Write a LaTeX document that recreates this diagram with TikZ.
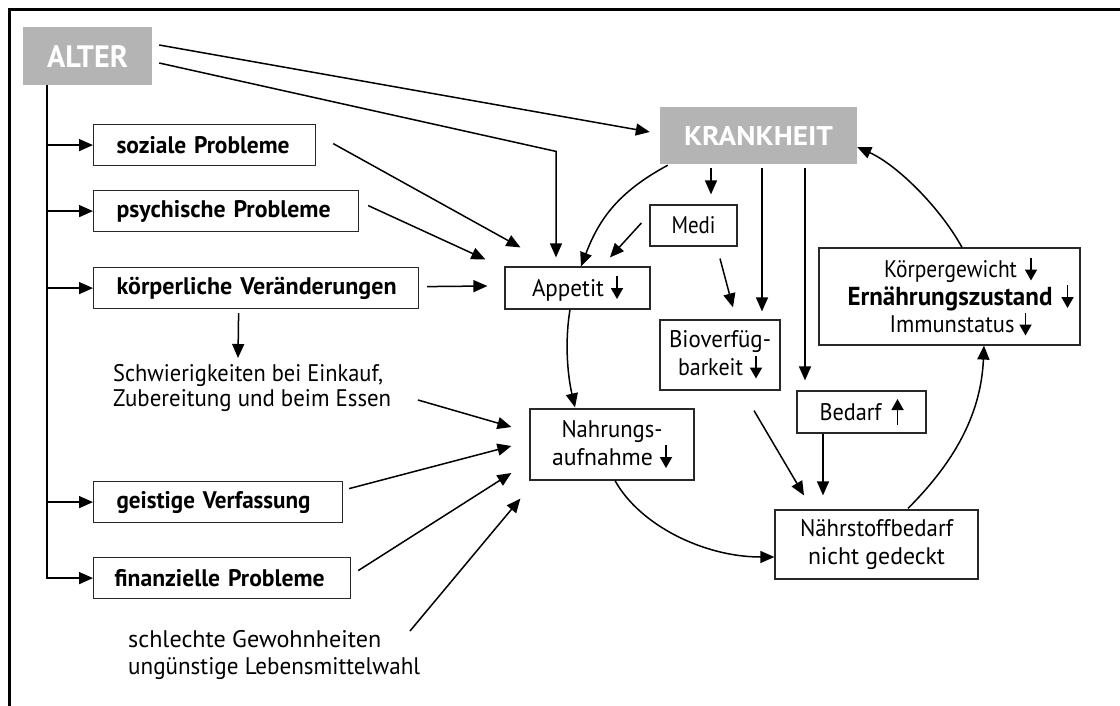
\documentclass[tikz,border=0pt]{standalone}
\usepackage{graphicx}
\usepackage{fontspec}
\setmainfont{PT Sans}
\usetikzlibrary{arrows.meta,calc}
\definecolor{boxgray}{RGB}{180,180,180}
\definecolor{boxline}{RGB}{40,40,40}
\newcommand\tw[2]{\resizebox{#1}{\height}{#2}}
\newcommand\myDown{\tikz[baseline=0pt]\draw[line width=1.8pt,-{Triangle[length=11pt,width=12pt]}] (0pt,20pt) -- (0pt,-3pt);}
\newcommand\myUp{\tikz[baseline=0pt]\draw[line width=1.8pt,-{Triangle[length=11pt,width=12pt]}] (0pt,-5pt) -- (0pt,21pt);}
\begin{document}
\begin{tikzpicture}[x=1pt,y=-1pt,
  box/.style={draw=boxline,line width=1.2pt,inner sep=0pt,font=\fontsize{24}{28}\selectfont,align=center},
  lbox/.style={draw=boxline,line width=1.2pt,inner ysep=0pt,inner xsep=23pt,anchor=north west,font=\fontsize{24}{26}\selectfont\bfseries,align=left,minimum height=41pt},
  gbox/.style={fill=boxgray,text=white,inner sep=0pt},
  arr/.style={line width=1.5pt,-{Triangle[length=14pt,width=12pt]}},
  txt/.style={inner sep=0pt,anchor=north west,align=left,font=\fontsize{24}{25}\selectfont},
  frame/.style={line width=3pt}]
\useasboundingbox (0,0) rectangle (1120,706);
\draw[frame] (9,706) -- (9,10) -- (1120,10);

% gray main nodes
\node[gbox,minimum width=129pt,minimum height=58pt,font=\fontsize{31}{32}\selectfont\bfseries] (alter) at (87.5,56) {\tw{81pt}{ALTER}};
\node[gbox,minimum width=197pt,minimum height=57pt,font=\fontsize{27}{30}\selectfont\bfseries] (krank) at (758.5,135.5) {\tw{149pt}{KRANKHEIT}};

% left column
\node[lbox,minimum width=222pt,text width=176pt] (soz) at (93,124) {\tw{173pt}{soziale Probleme}};
\node[lbox,minimum width=265pt,text width=219pt] (psy) at (93,190) {\tw{214pt}{psychische Probleme}};
\node[lbox,minimum width=325pt,text width=279pt] (koerp) at (93,267) {\tw{280pt}{körperliche Veränderungen}};
\node[lbox,minimum width=249pt,text width=203pt] (geist) at (93,481) {\tw{194pt}{geistige Verfassung}};
\node[lbox,minimum width=257pt,text width=215pt,inner xsep=21pt] (finanz) at (93,557) {\tw{210pt}{finanzielle Probleme}};
\node[txt] (schw) at (113,364) {\tw{270pt}{Schwierigkeiten bei Einkauf,}\\\tw{278pt}{Zubereitung und beim Essen}};
\node[txt,font=\fontsize{24}{27}\selectfont] (schl) at (128,630) {\tw{253pt}{schlechte Gewohnheiten}\\\tw{292pt}{ungünstige Lebensmittelwahl}};

% middle / right boxes
\node[box,minimum width=87pt,minimum height=41pt] (medi) at (693.5,225.5) {\tw{44pt}{Medi}};
\node[box,minimum width=145pt,minimum height=42pt] (app) at (577.5,288) {\tw{72pt}{Appetit}\hspace{7pt}\myDown};
\node[box,minimum width=120pt,minimum height=70pt] (bio) at (720,355) {\tw{102pt}{Bioverfüg-}\\\tw{65pt}{barkeit}\hspace{7pt}\myDown};
\node[box,minimum width=129pt,minimum height=42pt] (bedarf) at (861.5,412) {\tw{62pt}{Bedarf}\hspace{10pt}\myUp};
\node[box,minimum width=164pt,minimum height=71pt] (nahr) at (612,444.5) {\tw{101pt}{Nahrungs-}\\\tw{101pt}{aufnahme}\hspace{7pt}\myDown};
\node[box,minimum width=203pt,minimum height=69pt] (naehr) at (876.5,544.5) {\tw{153pt}{Nährstoffbedarf}\\\tw{137pt}{nicht gedeckt}};
\node[box,minimum width=261pt,minimum height=97pt,font=\fontsize{24}{27.5}\selectfont] (zust) at (949.5,296.5)
  {\hspace*{22pt}\tw{133pt}{Körpergewicht}\hspace{8pt}\myDown\\
   \hspace*{22pt}{\fontsize{26}{27.5}\selectfont\bfseries\tw{205pt}{Ernährungszustand}}\hspace{9pt}\myDown\\
   \hspace*{22pt}\tw{125pt}{Immunstatus}\hspace{5pt}\myDown};

% spine from ALTER
\coordinate (spine) at ($(alter.south west)+(24,0)$);
\foreach \n in {soz,psy,koerp,geist,finanz} \draw[arr] (spine) |- (\n.west);

% ALTER arrows
\draw[arr] ($(alter.east)+(7,-11)$) -- ($(krank.west)+(-10,-3.5)$);
\draw[arr] ($(alter.east)+(7,7)$) -- ($(app.north)+(-21.5,-115)$) -- ($(app.north)+(-21.5,-9)$);

% into Appetit
\draw[arr] ($(soz.east)+(17,-1.5)$) -- ($(app.north west)+(16,-19)$);
\draw[arr] ($(psy.east)+(9,-5.5)$) -- ($(app.north west)+(-19,-7)$);
\draw[arr] ($(koerp.east)+(8,-1.5)$) -- ($(app.west)+(-17,-2)$);
\draw[arr] ($(krank.south west)+(8,1)$) .. controls +(-50,27) and +(18,-47) .. ($(app.north)+(3.5,0)$);
\draw[arr] ($(medi.west)+(-8,-2.5)$) -- ($(app.north)+(32.5,-9)$);

% koerperliche -> Schwierigkeiten
\draw[arr] ($(koerp.south)+(-17.5,4)$) -- ($(schw.north west)+(125,-6)$);

% into Nahrungsaufnahme
\draw[arr] ($(schw.north west)+(305,36)$) -- ($(nahr.west)+(-18,-17.5)$);
\draw[arr] ($(geist.east)+(6,-13.5)$) -- ($(nahr.west)+(-18,1.5)$);
\draw[arr] ($(finanz.east)+(7,-7.5)$) -- ($(nahr.west)+(-18,28.5)$);
\draw[arr] ($(schl.north west)+(282,1)$) -- ($(nahr.south west)+(-9,18)$);
\draw[arr] ($(app.south)+(-7.5,0)$) .. controls +(-5,30) and +(-8,-35) .. ($(nahr.north)+(-37,-1)$);

% KRANKHEIT branches
\draw[arr] ($(krank.south)+(-47.5,4)$) -- ($(medi.north)+(17.5,-10)$);
\draw[arr] ($(medi.south)+(26.5,12)$) -- ($(bio.north)+(13,-12)$);
\draw[arr] ($(krank.south)+(3.5,4)$) -- ($(bio.north)+(42,-8)$);
\draw[arr] ($(krank.south)+(46.5,4)$) -- ($(bedarf.north)+(-56.5,-10)$);

% into Naehrstoffbedarf
\draw[arr] ($(bio.south)+(34,20)$) -- ($(naehr.north)+(-72.5,-14)$);
\draw[arr] ($(bedarf.south)+(-38.5,0)$) -- ($(naehr.north)+(-53.5,-14)$);
\draw[arr] ($(nahr.south)+(3,0)$) .. controls +(25,45) and +(-70,0) .. ($(naehr.west)+(0,12.5)$);

% cycle
\draw[arr] ($(naehr.north)+(31.5,-1)$) .. controls +(45,-45) and +(-3,70) .. ($(zust.south)+(34.5,0)$);
\draw[arr] ($(zust.north)+(12.5,0)$) .. controls +(-22,-40) and +(40,18) .. ($(krank.east)+(0,11.5)$);
\end{tikzpicture}
\end{document}
